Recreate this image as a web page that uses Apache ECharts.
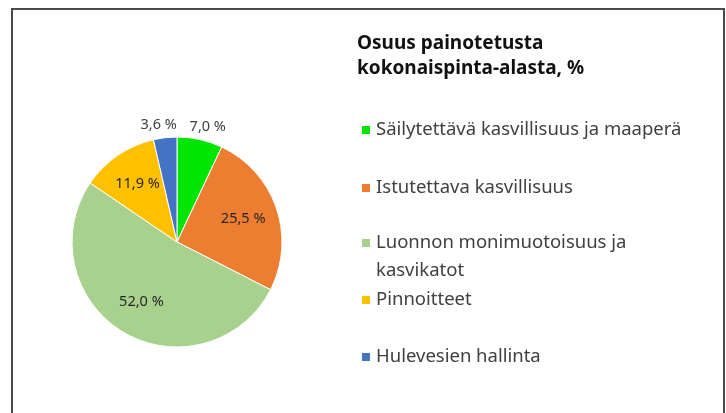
<!DOCTYPE html>
<html>
<head>
<meta charset="utf-8">
<script src="https://cdn.jsdelivr.net/npm/echarts@6/dist/echarts.min.js"></script>
<style>
  html, body { margin: 0; padding: 0; background: #fff; }
  #wrap { position: relative; width: 726px; height: 413px; overflow: hidden; }
  #frame {
    position: absolute; left: 11px; top: 8px; width: 714px; height: 420px;
    border: 2px solid #4a4a4a; border-bottom: none; box-sizing: border-box;
  }
  #chart { position: absolute; left: 0; top: 0; width: 726px; height: 413px; }
</style>
</head>
<body>
<div id="wrap">
  <div id="frame"></div>
  <div id="chart"></div>
</div>
<script>
const titleText = 'Osuus painotetusta\nkokonaispinta-alasta, %'
const categories = [
  'Säilytettävä kasvillisuus ja maaperä',
  'Istutettava kasvillisuus',
  'Luonnon monimuotoisuus ja kasvikatot',
  'Pinnoitteet',
  'Hulevesien hallinta',
]
const shares = [7.0, 25.5, 52.0, 11.9, 3.6]
const colors = ['#00e600', '#ed7d31', '#a9d18e', '#ffc000', '#4472c4']
const outsideLabel = [true, false, false, false, true]
// legend rows (icon centre y)
const legendRows = [130, 188, 243, 300, 357]

const pieCenter = [177, 242]
const pieRadius = 105
const rowH = 28

const chart = echarts.init(document.getElementById('chart'))

const fmt = v => v.toFixed(1).replace('.', ',') + ' %'

const legends = categories.map((name, i) => {
  const twoLine = name.startsWith('Luonnon')
  return {
    orient: 'vertical',
    left: 360,
    // icon is centred on the text block; the wrapped item gets an empty
    // leading line so the icon lines up with its first line
    top: legendRows[i] - (twoLine ? rowH * 1.5 : rowH / 2),
    padding: 0,
    itemWidth: 10,
    itemHeight: 10,
    itemGap: 6,
    icon: 'rect',
    data: [name],
    formatter: twoLine ? '\nLuonnon monimuotoisuus ja\nkasvikatot' : '{name}',
    textStyle: {
      fontFamily: 'Noto Sans',
      fontSize: 18.5,
      color: '#404040',
      lineHeight: rowH,
    },
  }
})

chart.setOption({
  animation: false,
  color: colors,
  title: {
    text: titleText,
    left: 352,
    top: 26,
    textStyle: {
      fontFamily: 'Noto Sans',
      fontSize: 19,
      fontWeight: 'bold',
      color: '#111',
      lineHeight: 25,
    },
  },
  legend: legends,
  series: [
    {
      type: 'pie',
      center: pieCenter,
      radius: pieRadius,
      startAngle: 90,
      clockwise: true,
      silent: true,
      itemStyle: { borderColor: '#fff', borderWidth: 1 },
      labelLine: { show: false, length: 13, length2: 0 },
      data: categories.map((name, i) => ({
        name,
        value: shares[i],
        label: {
          show: true,
          position: outsideLabel[i] ? 'outside' : 'inside',
          formatter: fmt(shares[i]),
          fontFamily: 'Noto Sans',
          fontSize: 14.5,
          color: outsideLabel[i] ? '#404040' : '#262626',
        },
      })),
      labelLayout: params => {
        const i = params.dataIndex
        const r = params.labelRect
        if (outsideLabel[i]) {
          return { align: 'center', verticalAlign: 'middle' }
        }
        // push inside labels a bit further out, as in the original
        const cx = r.x + r.width / 2 - pieCenter[0]
        const cy = r.y + r.height / 2 - pieCenter[1]
        return { dx: cx * 0.26, dy: cy * 0.26 }
      },
    },
  ],
})
</script>
</body>
</html>
